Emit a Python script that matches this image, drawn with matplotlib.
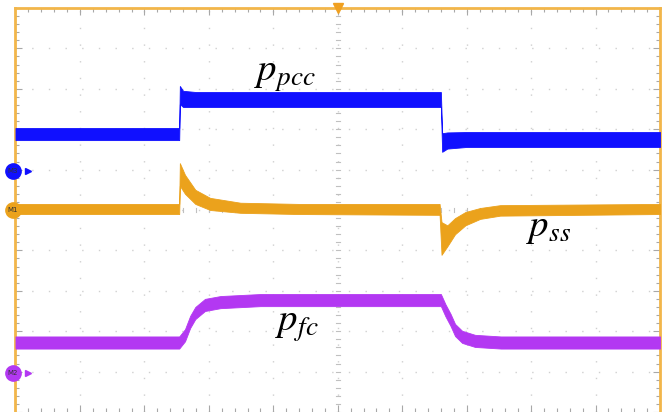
import numpy as np
import matplotlib.pyplot as plt

plt.rcParams['mathtext.fontset'] = 'stix'

pcc_t = [0.0, 2.54, 2.55, 2.60, 2.80, 6.60, 6.62, 6.70, 7.00, 10.0]
pcc_hi = [7.03, 7.03, 8.07, 7.95, 7.92, 7.92, 6.90, 6.92, 6.93, 6.93]
pcc_lo = [6.73, 6.73, 7.62, 7.55, 7.55, 7.55, 6.44, 6.52, 6.56, 6.56]

ss_t = [0.0, 2.54, 2.55, 2.63, 2.79, 3.02, 3.49, 4.4, 6.58, 6.61, 6.70, 6.82, 6.98, 7.21, 7.52, 10.0]
ss_hi = [5.15, 5.15, 6.16, 5.87, 5.50, 5.30, 5.18, 5.15, 5.15, 4.70, 4.62, 4.80, 4.95, 5.05, 5.12, 5.15]
ss_lo = [4.90, 4.90, 5.60, 5.40, 5.15, 5.00, 4.93, 4.90, 4.88, 3.89, 4.10, 4.40, 4.62, 4.78, 4.86, 4.90]

fc_t = [0.0, 2.54, 2.63, 2.71, 2.79, 2.94, 3.18, 3.80, 6.60, 6.67, 6.75, 6.82, 6.93, 7.13, 7.53, 10.0]
fc_mid = [1.72, 1.72, 1.90, 2.23, 2.45, 2.65, 2.72, 2.77, 2.77, 2.52, 2.28, 2.03, 1.86, 1.76, 1.72, 1.72]
fc_half = 0.15

blue = '#1010ff'
orange = '#eba21c'
purple = '#b338f2'
frame = '#f2b64a'

fig = plt.figure(figsize=(6.65, 4.12), dpi=100)
ax = fig.add_axes([0.0233, 0.0, 0.9692, 0.9806])
ax.set_xlim(0, 10)
ax.set_ylim(0, 10)

# scope graticule
for g in range(1, 10):
    ax.plot([g, g], [0, 10], color='#d0d0d0', lw=1.0, ls=(0, (1, 11)), zorder=0)
    ax.plot([0, 10], [g, g], color='#d0d0d0', lw=1.0, ls=(0, (1, 11)), zorder=0)
for m in np.arange(0, 10.01, 0.2):
    ax.plot([m, m], [4.94, 5.06], color='#c0c0c0', lw=0.8, zorder=0)
    ax.plot([4.97, 5.03], [m, m], color='#c0c0c0', lw=0.8, zorder=0)

# traces
ax.fill_between(pcc_t, pcc_lo, pcc_hi, color=blue, lw=0.6, edgecolor=blue, zorder=3)
ax.fill_between(ss_t, ss_lo, ss_hi, color=orange, lw=0.6, edgecolor=orange, zorder=3)
fc_mid = np.array(fc_mid)
ax.fill_between(fc_t, fc_mid - fc_half, fc_mid + fc_half, color=purple, lw=0.6,
                edgecolor=purple, zorder=3)

# channel markers on the left edge
markers = [(5.97, blue, 'M3'), (5.0, orange, 'M1'), (0.965, purple, 'M2')]
for yv, col, lab in markers:
    ax.plot(0.2, yv, marker='>', color=col, ms=4, clip_on=False, zorder=5)
    ax.plot(-0.04, yv, marker='o', color=col, ms=11, clip_on=False, zorder=6)
    ax.text(-0.04, yv, lab, color='#333333', fontsize=5, ha='center', va='center',
            zorder=7, clip_on=False)

# trigger marker
ax.plot(5.0, 10.0, marker='v', color='#f0a020', ms=7, clip_on=False, zorder=6)

# labels
ax.text(4.18, 8.34, '$p_{pcc}$', fontsize=28, ha='center', va='center', zorder=8)
ax.text(8.27, 4.58, '$p_{ss}$', fontsize=28, ha='center', va='center', zorder=8)
ax.text(4.37, 2.15, '$p_{fc}$', fontsize=28, ha='center', va='center', zorder=8)

# frame with inward ticks
for s in ['left', 'right', 'top']:
    ax.spines[s].set_color(frame)
    ax.spines[s].set_linewidth(2)
ax.spines['bottom'].set_visible(False)
ax.set_xticks(np.arange(0, 10.01, 1))
ax.set_yticks(np.arange(0, 10.01, 1))
ax.set_xticks(np.arange(0, 10.01, 0.2), minor=True)
ax.set_yticks(np.arange(0, 10.01, 0.2), minor=True)
ax.tick_params(which='both', direction='in', top=True, right=True, bottom=True, left=True,
               labelbottom=False, labelleft=False, color='#a8a8a8', width=0.8)
ax.tick_params(which='major', length=5)
ax.tick_params(which='minor', length=3)

fig.savefig('out.png', dpi=100)
